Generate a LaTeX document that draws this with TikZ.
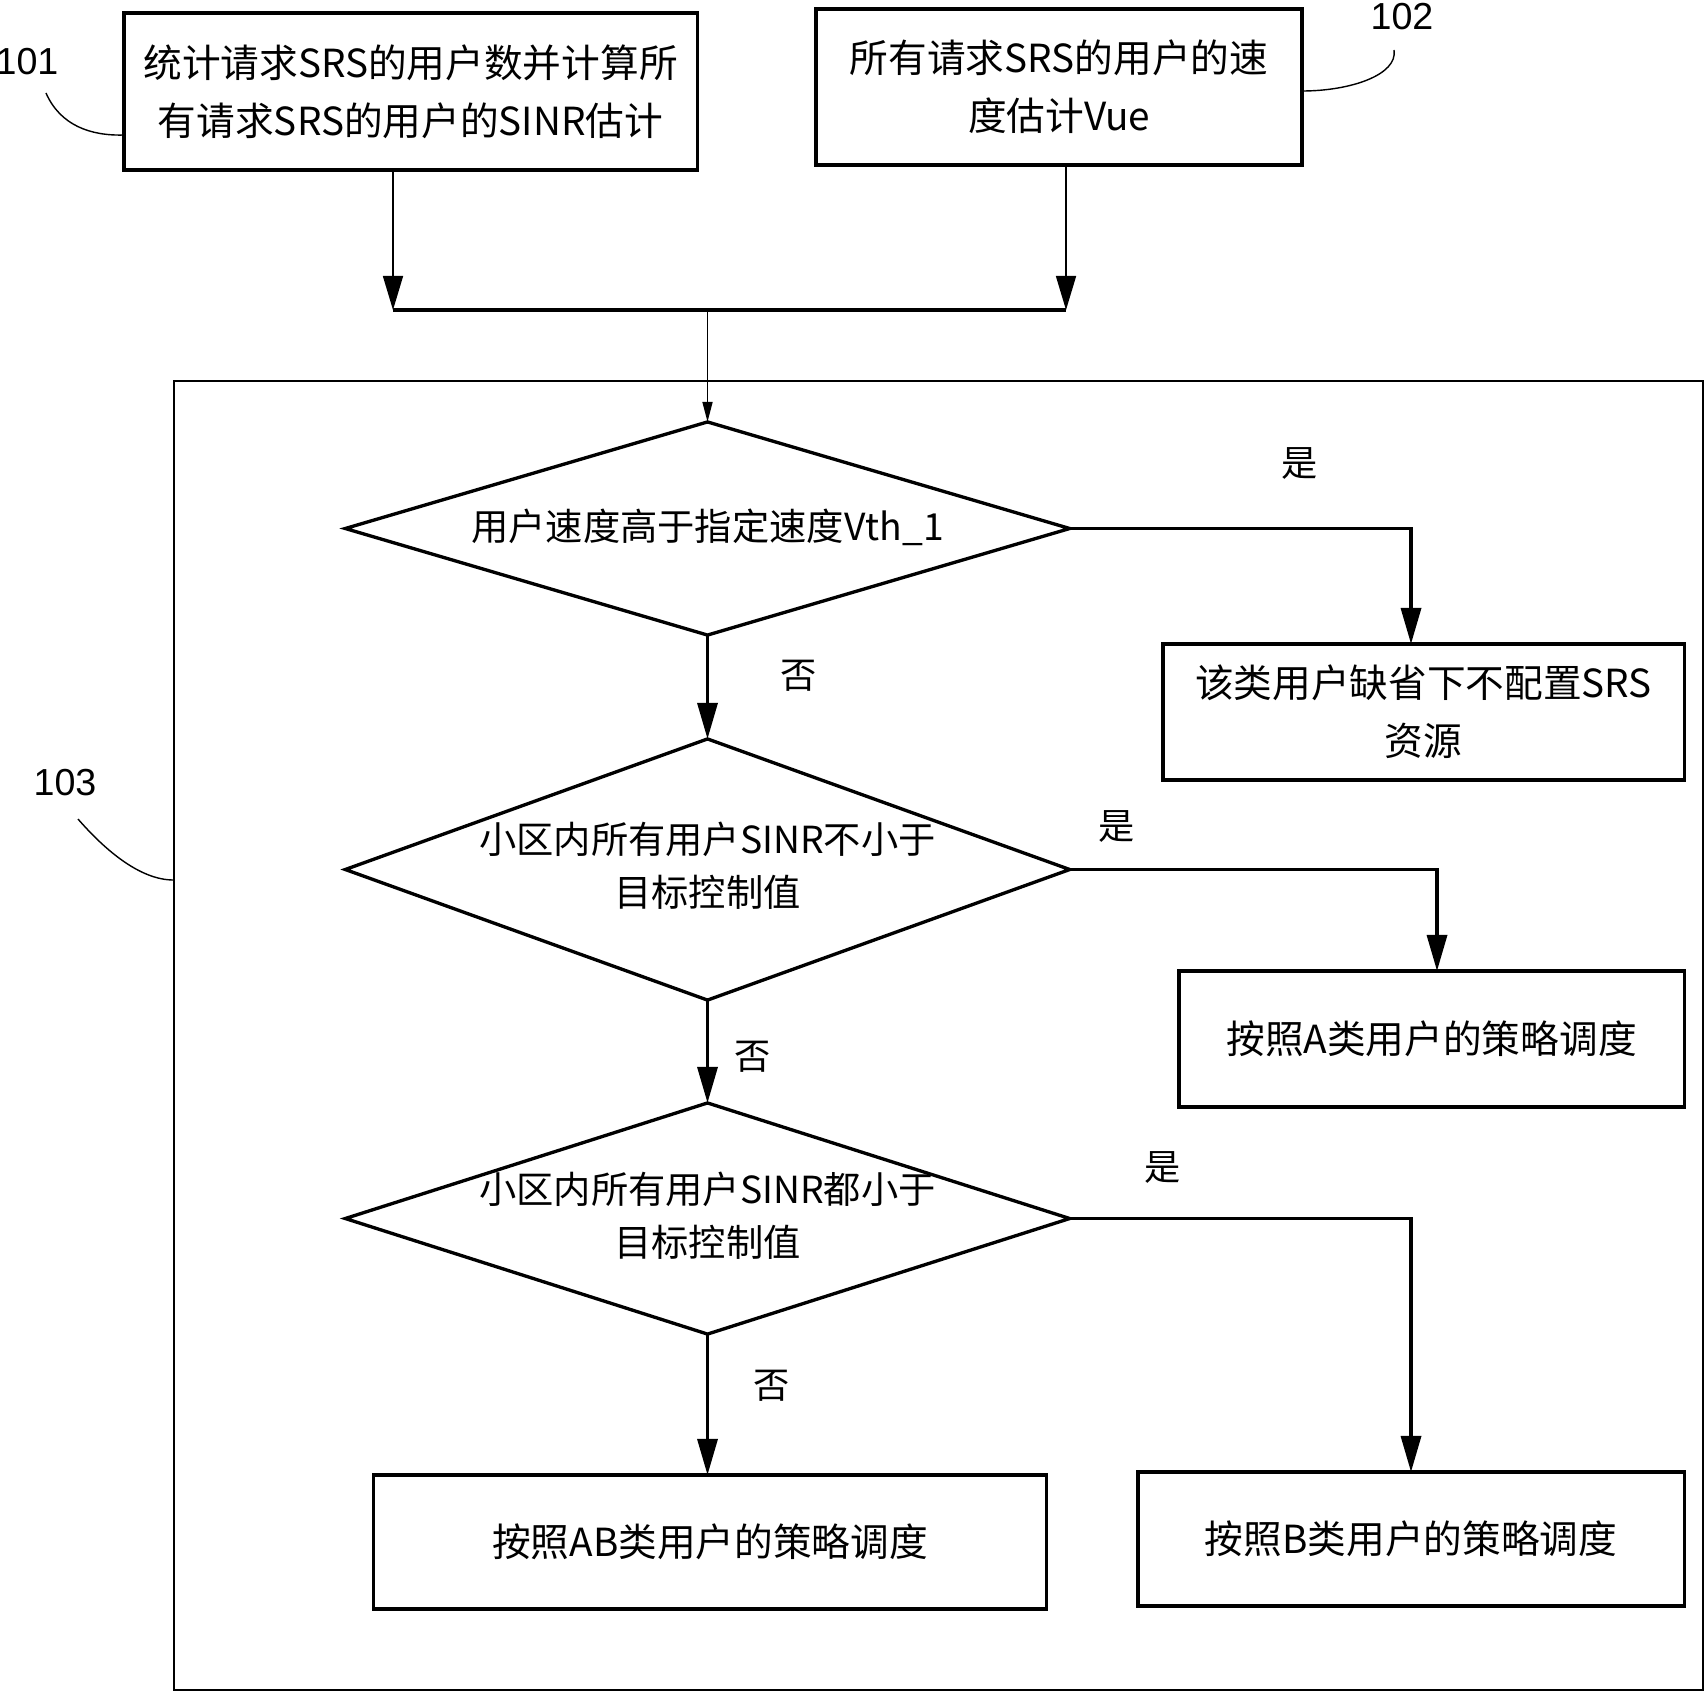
\documentclass[tikz,border=0pt]{standalone}
\usepackage{fontspec}
\setmainfont{Liberation Sans}
\newfontfamily\cjk{Noto Sans CJK SC}
\usetikzlibrary{shapes.geometric,arrows.meta}
\begin{document}
\begin{tikzpicture}[x=0.01cm,y=-0.01cm,
  pbox/.style={draw,rectangle,line width=0.95pt,inner sep=0pt,outer sep=0pt,align=center,
    font=\cjk\fontsize{11}{16.5}\selectfont},
  dia/.style={draw,diamond,line width=0.95pt,inner sep=0pt,outer sep=0pt,minimum width=7.24cm},
  dtext/.style={align=center,inner sep=0pt,font=\cjk\fontsize{10.6}{15}\selectfont},
  lab/.style={inner sep=0pt,font=\cjk\fontsize{10.3}{12}\selectfont},
  num/.style={inner sep=0pt,font=\fontsize{10.7}{12}\selectfont},
  thinarr/.style={line width=0.45pt,-{Triangle[length=0.34cm,width=0.2cm]}},
  smallarr/.style={line width=0.45pt,-{Triangle[length=0.2cm,width=0.1cm]}},
  thickarr/.style={line width=0.95pt,-{Triangle[length=0.36cm,width=0.2cm]}},
  curve/.style={line width=0.4pt}
]
\useasboundingbox (0,0) rectangle (1704,1691);

% top boxes
\node[pbox,minimum width=5.73cm,minimum height=1.57cm] (b101) at (410.5,91.5)
  {统计请求SRS的用户数并计算所\\有请求SRS的用户的SINR估计};
\node[pbox,minimum width=4.86cm,minimum height=1.56cm] (b102) at (1059,87)
  {所有请求SRS的用户的速\\度估计Vue};

\node[num] (l101) at (27,62) {101};
\node[num] (l102) at (1402,17) {102};
\node[num] (l103) at (65,783) {103};

\draw[curve] (46,93) .. controls (60,125) and (90,136) .. (b101.west |- 0,135);
\draw[curve] (1394,50) .. controls (1398,75) and (1350,91) .. (b102.east |- 0,91);

% merge
\coordinate (m1) at (393,310);
\coordinate (m2) at (1066,310);
\coordinate (m3) at (707.5,310);
\draw[thinarr] (b101.south -| m1) -- (m1);
\draw[thinarr] (b102.south -| m2) -- (m2);
\draw[line width=0.95pt] (m1) -- (m2);

% big box
\node[draw,line width=0.6pt,inner sep=0pt,outer sep=0pt,minimum width=15.29cm,minimum height=13.09cm] (b103) at (938.5,1035.5) {};
\draw[curve] (l103.south) ++(13,22) .. controls (105,850) and (140,880) .. (b103.west |- 0,880);

% diamonds
\node[dia,minimum height=2.13cm] (d1) at (707.5,528.5) {};
\node[dia,minimum height=2.61cm] (d2) at (707.5,869.5) {};
\node[dia,minimum height=2.31cm] (d3) at (707.5,1218.5) {};
\node[dtext] (d1t) at (707.5,527) {用户速度高于指定速度Vth\_1};
\node[dtext] (d2t) at (707.5,866) {小区内所有用户SINR不小于\\目标控制值};
\node[dtext] (d3t) at (707.5,1216) {小区内所有用户SINR都小于\\目标控制值};

\draw[smallarr] (m3) -- (d1.north);

% result boxes
\node[pbox,minimum width=5.21cm,minimum height=1.36cm] (n1) at (1423.5,712) {该类用户缺省下不配置SRS\\资源};
\node[pbox,minimum width=5.05cm,minimum height=1.36cm] (nA) at (1431.5,1039) {按照A类用户的策略调度};
\node[pbox,minimum width=6.72cm,minimum height=1.34cm] (nAB) at (710,1542) {按照AB类用户的策略调度};
\node[pbox,minimum width=5.46cm,minimum height=1.34cm] (nB) at (1411,1539) {按照B类用户的策略调度};

\coordinate (c1) at (1411,0);
\coordinate (c2) at (1437,0);
\coordinate (c3) at (1411,0);
\draw[thickarr] (d1.east) -- (d1.east -| c1) -- (n1.north -| c1);
\draw[thickarr] (d2.east) -- (d2.east -| c2) -- (nA.north -| c2);
\draw[thickarr] (d3.east) -- (d3.east -| c3) -- (nB.north -| c3);
\draw[thickarr] (d1.south) -- (d2.north);
\draw[thickarr] (d2.south) -- (d3.north);
\draw[thickarr] (d3.south) -- (nAB.north -| d3.south);

% yes/no labels
\node[lab] (y1) at (1300,463) {是};
\node[lab] (n1l) at (799,676) {否};
\node[lab] (y2) at (1117,826) {是};
\node[lab] (n2l) at (753,1057) {否};
\node[lab] (y3) at (1163,1167) {是};
\node[lab] (n3l) at (772,1386) {否};
\end{tikzpicture}
\end{document}
